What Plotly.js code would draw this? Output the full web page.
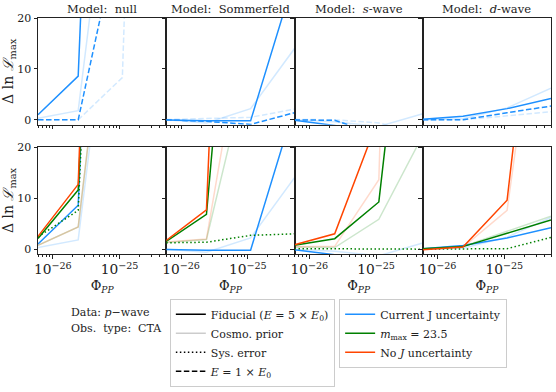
<!DOCTYPE html>
<html>
<head>
<meta charset="utf-8">
<script src="https://cdn.plot.ly/plotly-3.0.1.min.js"></script>
<style>
  body { margin: 0; padding: 0; background: #fff; }
  #plot { width: 556px; height: 392px; }
</style>
</head>
<body>
<div id="plot"></div>
<script>
// flux values where the scan was evaluated
const phiPP = [6e-27, 2.4e-26, 1.1e-25, 5e-25];

const modelTitles = ['Model:  null', 'Model:  Sommerfeld', 'Model:  <i>s</i>-wave', 'Model:  <i>d</i>-wave'];

// top row: current J uncertainty, one list per model (null, Sommerfeld, s-wave, d-wave)
const curJFid = [[1.0, 8.6, 220, 500], [-0.05, -0.2, -0.2, 28], [-0.1, -1.1, -3, -5], [0.1, 0.7, 2.2, 4.2]];
const curJCosmo = [[0.3, 1.8, 72, 150], [0, -0.6, 2.2, 14], [0.0, -0.4, -1.3, 1.2], [0, 0.2, 2.35, 6.2]];
const curJE1 = [[0, 0, 40, 120], [0, -0.3, -0.9, 1.4], [0, -0.1, -3, -5], [0, 0, 1.4, 2.7]];
const curJE1Cosmo = [[0, 0, 8.3, 270], [0.05, 0.2, 0.5, 2.1], [0.1, 0.0, -0.6, -3], [0, 0, 0.8, 1.6]];

// bottom row: green = m_max 23.5, orange = no J uncertainty
const mMaxFid = [[2.1, 11.6, 200, 400], [1.5, 6.8, 105, 300], [0.75, 2.05, 9.25, 85], [0.1, 0.5, 3.1, 5.7]];
const mMaxCosmo = [[0.75, 4.35, 77, 200], [1.3, 1.9, 38, 120], [0.4, 0.3, 5.85, 22.3], [0.1, 0.55, 3.5, 6.45]];
const mMaxSys = [[2.4, 7.6, 200, 400], [1.25, 1.35, 2.7, 3.0], [0.1, 0.05, 0, 0], [0, 0, 0.1, 2.3]];
const noJFid = [[2.5, 12.7, 257, 500], [1.7, 7.7, 214, 400], [0.85, 3.0, 25.8, 80], [-0.1, 0.4, 9.6, 84]];
const noJCosmo = [[0.75, 4.35, 77, 200], [1.4, 2.0, 52.5, 150], [0.45, 0.55, 13.6, 300], [0, 0.35, 7.6, 70]];

const BLUE = '#1E90FF', GREEN = '#008000', ORANGE = '#FF4500';
const fade = {};
fade[BLUE] = 'rgba(30,144,255,0.2)';
fade[GREEN] = 'rgba(0,128,0,0.2)';
fade[ORANGE] = 'rgba(255,69,0,0.2)';

// matplotlib-like dash patterns
const DASHED = '5.5px,2.5px', DOTTED = '1.5px,2.5px';

const serif = 'DejaVu Serif';
let data = [];

// one line in panel k (0..7)
function addLine(k, yvals, color, dash) {
    let n = k === 0 ? '' : String(k + 1);
    data.push({
        x: phiPP, y: yvals, type: 'scatter', mode: 'lines',
        xaxis: 'x' + n, yaxis: 'y' + n,
        line: {color: color, width: 1.5, dash: dash || 'solid'},
        showlegend: false, hoverinfo: 'skip'
    });
}

for (let c = 0; c < 4; c++) {
    // top row
    addLine(c, curJCosmo[c], fade[BLUE]);
    addLine(c, curJE1Cosmo[c], fade[BLUE], DASHED);
    addLine(c, curJFid[c], BLUE);
    addLine(c, curJE1[c], BLUE, DASHED);
    // bottom row
    let k = c + 4;
    addLine(k, curJCosmo[c], fade[BLUE]);
    addLine(k, mMaxCosmo[c], fade[GREEN]);
    addLine(k, noJCosmo[c], fade[ORANGE]);
    addLine(k, curJFid[c], BLUE);
    addLine(k, mMaxSys[c], GREEN, DOTTED);
    addLine(k, mMaxFid[c], GREEN);
    addLine(k, noJFid[c], ORANGE);
}

// legend-only entries
function legendEntry(name, color, dash, legend) {
    data.push({
        x: [null], y: [null], type: 'scatter', mode: 'lines', name: name,
        line: {color: color, width: 1.5, dash: dash}, legend: legend, showlegend: true
    });
}
legendEntry('Fiducial (<i>E</i> = 5 × <i>E</i><sub>0</sub>)', '#000', 'solid', 'legend');
legendEntry('Cosmo. prior', 'rgba(0,0,0,0.2)', 'solid', 'legend');
legendEntry('Sys. error', '#000', DOTTED, 'legend');
legendEntry('<i>E</i> = 1 × <i>E</i><sub>0</sub>', '#000', DASHED, 'legend');
legendEntry('Current J uncertainty', BLUE, 'solid', 'legend2');
legendEntry('<i>m</i><sub>max</sub> = 23.5', GREEN, 'solid', 'legend2');
legendEntry('No <i>J</i> uncertainty', ORANGE, 'solid', 'legend2');

let layout = {
    width: 556, height: 392,
    margin: {l: 38, r: 5, t: 18, b: 124.5},
    paper_bgcolor: '#fff', plot_bgcolor: '#fff',
    font: {family: serif, size: 11, color: '#222'},
    annotations: [],
    legend: {
        x: 0.257, y: -0.19, xanchor: 'left', yanchor: 'top',
        bordercolor: '#ccc', borderwidth: 1, font: {family: serif, size: 11}, tracegroupgap: 0
    },
    legend2: {
        x: 0.587, y: -0.19, xanchor: 'left', yanchor: 'top',
        bordercolor: '#ccc', borderwidth: 1, font: {family: serif, size: 11}, tracegroupgap: 0
    }
};

const xr = [Math.log10(phiPP[0]), Math.log10(phiPP[phiPP.length - 1])];
for (let k = 0; k < 8; k++) {
    let r = Math.floor(k / 4), c = k % 4;
    let n = k === 0 ? '' : String(k + 1);
    layout['xaxis' + n] = {
        type: 'log', range: xr, domain: [c * 0.25, (c + 1) * 0.25],
        anchor: 'y' + n, dtick: 1, exponentformat: 'power',
        showticklabels: r === 1, ticks: 'outside', ticklen: 3.5, tickcolor: '#222',
        minor: {ticks: 'outside', ticklen: 2, tickcolor: '#222'},
        showline: true, mirror: true, linecolor: '#222', linewidth: 1,
        showgrid: false, zeroline: false,
        tickfont: {family: serif, size: 11},
        title: r === 1 ? {text: 'Φ<sub><i>PP</i></sub>', font: {family: serif, size: 13}, standoff: 4} : undefined
    };
    layout['yaxis' + n] = {
        range: [-0.95, 20], domain: r === 0 ? [0.548, 1] : [0, 0.453],
        anchor: 'x' + n, tickvals: [0, 10, 20],
        showticklabels: c === 0, ticks: 'outside', ticklen: 3.5, tickcolor: '#222',
        showline: true, mirror: true, linecolor: '#222', linewidth: 1,
        showgrid: false, zeroline: false,
        tickfont: {family: serif, size: 11},
        title: c === 0 ? {text: 'Δ ln <i>ℒ</i><sub>max</sub>', font: {family: serif, size: 14}, standoff: 5} : undefined
    };
    if (r === 0) {
        layout.annotations.push({
            text: modelTitles[c], xref: 'paper', yref: 'paper',
            x: c * 0.25 + 0.125, y: 1, xanchor: 'center', yanchor: 'bottom', yshift: 0,
            showarrow: false, font: {family: serif, size: 11.5}
        });
    }
}

layout.annotations.push({
    text: 'Data: <i>p</i>−wave', xref: 'paper', yref: 'paper', x: 0.06, y: -0.247,
    xanchor: 'left', yanchor: 'middle', showarrow: false, font: {family: serif, size: 11}
});
layout.annotations.push({
    text: 'Obs.  type:  CTA', xref: 'paper', yref: 'paper', x: 0.06, y: -0.315,
    xanchor: 'left', yanchor: 'middle', showarrow: false, font: {family: serif, size: 11}
});

Plotly.newPlot('plot', data, layout, {displayModeBar: false, staticPlot: true});
</script>
</body>
</html>
